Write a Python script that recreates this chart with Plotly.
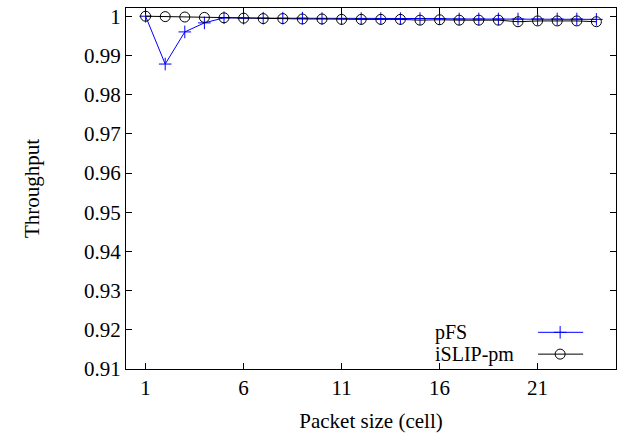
import plotly.graph_objects as go

# Packet size (cells) and measured throughput for each scheduler
packet_size = list(range(1, 25))
pfs = [1.0, 0.9878, 0.9960, 0.9983, 0.9996, 0.9995, 0.9995, 0.9995, 0.9995, 0.9994,
       0.9994, 0.9994, 0.9994, 0.9994, 0.9994, 0.9994, 0.9993, 0.9993, 0.9993, 0.9993,
       0.9993, 0.9993, 0.9993, 0.9992]
islip_pm = [1.0, 0.9999, 0.9998, 0.9997, 0.9996, 0.9995, 0.9994, 0.9994, 0.9993, 0.9993,
            0.9992, 0.9992, 0.9992, 0.9992, 0.9990, 0.9991, 0.9990, 0.9990, 0.9990, 0.9986,
            0.9988, 0.9988, 0.9988, 0.9986]

y_ticks = [0.91, 0.92, 0.93, 0.94, 0.95, 0.96, 0.97, 0.98, 0.99, 1.0]
y_tick_text = ["0.91", "0.92", "0.93", "0.94", "0.95", "0.96", "0.97", "0.98", "0.99", "1"]
x_ticks = [1, 6, 11, 16, 21]

series_names = ["pFS", "iSLIP-pm"]
series_colors = ["#0000ff", "#000000"]
series_symbols = ["cross-thin-open", "circle-open"]
series_sizes = [9, 10]

FONT = "Liberation Serif, Times New Roman, DejaVu Serif, serif"

fig = go.Figure()
for name, ys, color, sym, sz in zip(series_names, [pfs, islip_pm], series_colors,
                                    series_symbols, series_sizes):
    fig.add_trace(go.Scatter(
        x=packet_size, y=ys, name=name, mode="lines+markers",
        line=dict(color=color, width=1),
        marker=dict(symbol=sym, size=sz, color=color, line=dict(color=color, width=1)),
        showlegend=False,
    ))

# Key drawn in gnuplot style: label on the left, line sample with marker on the right
key_rows = [0.1016, 0.0412]
for name, color, sym, sz, yk in zip(series_names, series_colors, series_symbols,
                                    series_sizes, key_rows):
    fig.add_annotation(x=0.627, y=yk, xref="paper", yref="paper", text=name,
                       showarrow=False, xanchor="left", yanchor="middle",
                       font=dict(family=FONT, size=20, color="black"))
    fig.add_shape(type="line", xref="paper", yref="paper", x0=0.841, x1=0.933,
                  y0=yk, y1=yk, line=dict(color=color, width=1))
    fig.add_trace(go.Scatter(
        x=[0.886], y=[yk], xaxis="x2", yaxis="y2", mode="markers",
        marker=dict(symbol=sym, size=sz, color=color, line=dict(color=color, width=1)),
        showlegend=False, hoverinfo="skip",
    ))

axis_common = dict(showline=True, linecolor="black", linewidth=1, mirror="ticks",
                   ticks="inside", ticklen=6, tickcolor="black", tickwidth=1,
                   showgrid=False, zeroline=False,
                   tickfont=dict(family=FONT, size=21, color="black"))

fig.update_layout(
    width=639, height=441,
    margin=dict(l=126, r=23, t=5, b=72),
    paper_bgcolor="white", plot_bgcolor="white",
    font=dict(family=FONT, size=21, color="black"),
    xaxis=dict(range=[0, 25], tickvals=x_ticks,
               title=dict(text="Packet size (cell)", standoff=14,
                          font=dict(family=FONT, size=21)),
               **axis_common),
    yaxis=dict(range=[0.91, 1.0021], tickvals=y_ticks, ticktext=y_tick_text,
               title=dict(text="Throughput", standoff=38,
                          font=dict(family=FONT, size=21)),
               **axis_common),
    xaxis2=dict(overlaying="x", range=[0, 1], visible=False),
    yaxis2=dict(overlaying="y", range=[0, 1], visible=False),
)

fig.write_html("out.html")
